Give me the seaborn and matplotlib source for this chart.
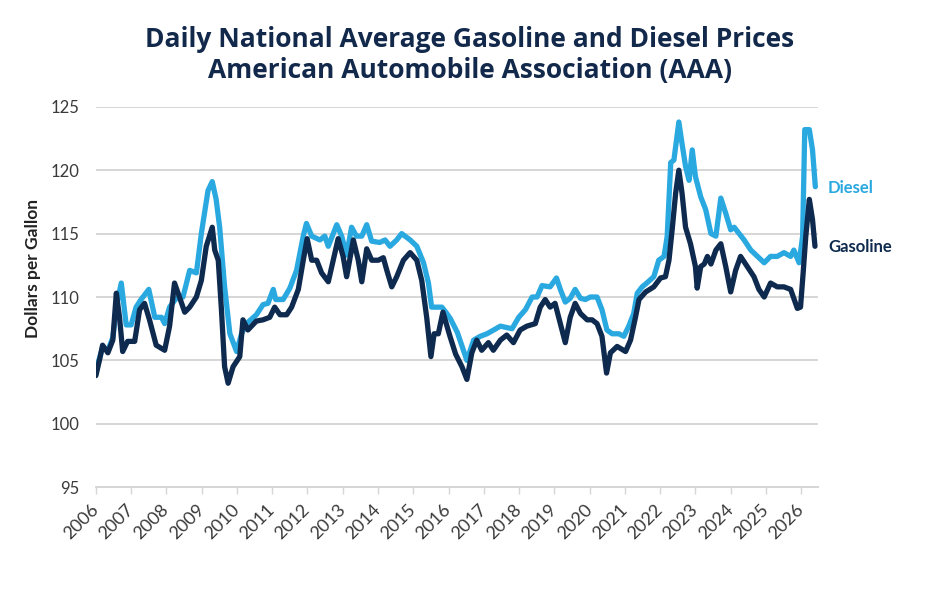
import matplotlib
matplotlib.use("Agg")
import matplotlib.pyplot as plt
import seaborn as sns
import pandas as pd
import numpy as np

# ---------------- data ----------------
gas_t = [2006.00, 2006.10, 2006.19, 2006.34, 2006.48, 2006.58, 2006.67, 2006.76, 2006.90,
         2007.10, 2007.24, 2007.38, 2007.52, 2007.71, 2007.95, 2008.09, 2008.23, 2008.37,
         2008.52, 2008.66, 2008.85, 2008.99, 2009.13, 2009.30, 2009.37, 2009.47, 2009.56,
         2009.65, 2009.75, 2009.89, 2010.08, 2010.17, 2010.31, 2010.55, 2010.74, 2010.93,
         2011.07, 2011.22, 2011.41, 2011.55, 2011.74, 2011.88, 2011.99, 2012.12, 2012.26,
         2012.40, 2012.59, 2012.73, 2012.87, 2013.01, 2013.11, 2013.30, 2013.44, 2013.54,
         2013.68, 2013.82, 2014.01, 2014.15, 2014.25, 2014.39, 2014.53, 2014.72, 2014.91,
         2015.10, 2015.24, 2015.38, 2015.50, 2015.59, 2015.71, 2015.84, 2016.04, 2016.20,
         2016.38, 2016.52, 2016.66, 2016.80, 2016.94, 2017.13, 2017.27, 2017.47, 2017.65,
         2017.84, 2018.03, 2018.22, 2018.46, 2018.60, 2018.74, 2018.88, 2019.02, 2019.17,
         2019.31, 2019.45, 2019.59, 2019.74, 2019.93, 2020.07, 2020.21, 2020.35, 2020.48,
         2020.59, 2020.78, 2021.02, 2021.16, 2021.30, 2021.40, 2021.59, 2021.82, 2022.01,
         2022.15, 2022.25, 2022.34, 2022.44, 2022.53, 2022.62, 2022.72, 2022.86, 2023.00,
         2023.05, 2023.15, 2023.25, 2023.34, 2023.44, 2023.58, 2023.72, 2023.86, 2024.00,
         2024.14, 2024.28, 2024.47, 2024.66, 2024.80, 2024.95, 2025.13, 2025.32, 2025.51,
         2025.70, 2025.89, 2025.98, 2026.06, 2026.13, 2026.23, 2026.32, 2026.39]
gas_v = [103.8, 105.0, 106.2, 105.6, 106.6, 110.3, 108.4, 105.7, 106.5,
         106.5, 109.0, 109.5, 108.2, 106.2, 105.8, 107.7, 111.1, 110.0,
         108.8, 109.2, 110.0, 111.3, 114.0, 115.5, 113.7, 112.9, 109.0,
         104.5, 103.2, 104.5, 105.3, 108.2, 107.4, 108.1, 108.2, 108.4,
         109.2, 108.6, 108.6, 109.2, 110.6, 112.9, 114.6, 112.9, 112.9,
         111.9, 111.2, 112.9, 114.6, 113.2, 111.6, 114.5, 112.9, 111.2,
         113.8, 112.9, 112.9, 113.1, 112.1, 110.8, 111.6, 112.9, 113.5,
         112.9, 111.3, 108.4, 105.3, 107.1, 107.1, 108.8, 106.9, 105.5,
         104.5, 103.5, 105.6, 106.6, 105.8, 106.4, 105.8, 106.6, 107.0,
         106.4, 107.4, 107.7, 107.9, 109.2, 109.8, 109.2, 109.5, 107.9,
         106.4, 108.4, 109.5, 108.7, 108.2, 108.2, 107.9, 106.9, 104.0,
         105.6, 106.1, 105.7, 106.6, 108.4, 109.8, 110.4, 110.8, 111.5,
         111.6, 112.9, 115.3, 118.2, 120.0, 118.2, 115.5, 114.2, 112.4,
         110.7, 112.4, 112.6, 113.2, 112.6, 113.7, 114.2, 112.4, 110.4,
         112.1, 113.2, 112.4, 111.6, 110.6, 110.0, 111.1, 110.8, 110.8,
         110.6, 109.1, 109.2, 112.1, 114.8, 117.7, 116.1, 114.0]

dsl_t = [2006.00, 2006.19, 2006.34, 2006.48, 2006.60, 2006.72, 2006.86, 2007.00, 2007.14,
         2007.28, 2007.50, 2007.67, 2007.86, 2007.95, 2008.09, 2008.28, 2008.47, 2008.66,
         2008.85, 2008.99, 2009.18, 2009.30, 2009.41, 2009.51, 2009.65, 2009.80, 2009.99,
         2010.13, 2010.27, 2010.55, 2010.74, 2010.88, 2011.03, 2011.10, 2011.31, 2011.50,
         2011.69, 2011.88, 2011.97, 2012.12, 2012.35, 2012.49, 2012.59, 2012.83, 2012.97,
         2013.11, 2013.25, 2013.39, 2013.54, 2013.68, 2013.82, 2014.05, 2014.20, 2014.34,
         2014.53, 2014.67, 2014.91, 2015.10, 2015.29, 2015.43, 2015.52, 2015.66, 2015.81,
         2015.95, 2016.05, 2016.25, 2016.52, 2016.71, 2016.90, 2017.09, 2017.28, 2017.47,
         2017.80, 2017.99, 2018.18, 2018.37, 2018.51, 2018.65, 2018.88, 2019.06, 2019.17,
         2019.31, 2019.45, 2019.59, 2019.74, 2019.88, 2020.02, 2020.21, 2020.35, 2020.49,
         2020.64, 2020.83, 2020.97, 2021.11, 2021.25, 2021.35, 2021.49, 2021.62, 2021.82,
         2021.96, 2022.11, 2022.20, 2022.30, 2022.39, 2022.53, 2022.62, 2022.72, 2022.82,
         2022.91, 2023.00, 2023.15, 2023.29, 2023.44, 2023.58, 2023.72, 2023.86, 2024.00,
         2024.10, 2024.24, 2024.38, 2024.57, 2024.76, 2024.95, 2025.13, 2025.32, 2025.51,
         2025.70, 2025.79, 2025.94, 2026.04, 2026.10, 2026.23, 2026.32, 2026.40]
dsl_v = [104.2, 106.0, 105.8, 106.8, 109.5, 111.1, 107.8, 107.8, 109.2,
         109.8, 110.6, 108.4, 108.4, 107.9, 109.2, 109.9, 110.0, 112.1,
         111.9, 115.0, 118.4, 119.1, 117.7, 115.5, 110.8, 107.1, 105.7,
         107.1, 107.9, 108.6, 109.4, 109.5, 110.6, 109.8, 109.8, 110.7,
         112.1, 114.8, 115.8, 114.8, 114.5, 114.8, 114.0, 115.7, 114.8,
         113.3, 115.5, 114.8, 114.8, 115.7, 114.4, 114.3, 114.5, 114.0,
         114.5, 115.0, 114.5, 114.0, 112.7, 111.1, 109.2, 109.2, 109.2,
         108.7, 108.3, 107.2, 105.0, 106.6, 106.9, 107.1, 107.4, 107.7,
         107.5, 108.4, 109.0, 110.0, 110.0, 110.9, 110.8, 111.5, 110.6,
         109.6, 109.9, 110.6, 109.9, 109.8, 110.0, 110.0, 109.0, 107.4,
         107.1, 107.1, 106.9, 107.7, 108.7, 110.3, 110.8, 111.1, 111.6,
         112.9, 113.2, 114.8, 120.6, 120.8, 123.8, 122.1, 120.3, 119.2,
         121.6, 119.5, 117.9, 116.9, 115.0, 114.8, 117.8, 116.6, 115.3,
         115.5, 115.0, 114.5, 113.7, 113.2, 112.7, 113.2, 113.2, 113.5,
         113.2, 113.7, 112.7, 114.8, 123.2, 123.2, 121.6, 118.7]

series_names = ["Diesel", "Gasoline"]
year_ticks = list(range(2006, 2027))
y_ticks = [95, 100, 105, 110, 115, 120, 125]
title_text = "Daily National Average Gasoline and Diesel Prices\nAmerican Automobile Association (AAA)"
y_label = "Dollars per Gallon"

DIESEL_C = "#2AA8E0"
GAS_C = "#0E2A4F"
NAVY = "#13294B"
TICK_C = "#3a3a3a"

df = pd.concat([
    pd.DataFrame({"t": dsl_t, "v": dsl_v, "series": series_names[0]}),
    pd.DataFrame({"t": gas_t, "v": gas_v, "series": series_names[1]}),
], ignore_index=True)

sns.set_theme(style="white")
plt.rcParams["font.family"] = ["Lato", "DejaVu Sans"]

fig = plt.figure(figsize=(9.4, 6.0), dpi=100)
ax = fig.add_axes([0.102, 0.188, 0.768, 0.634])

sns.lineplot(data=df, x="t", y="v", hue="series", sort=False,
             palette={series_names[0]: DIESEL_C, series_names[1]: GAS_C},
             hue_order=series_names, linewidth=3.8, legend=False, ax=ax,
             estimator=None)
for line in ax.lines:
    line.set_solid_joinstyle("round")
    line.set_solid_capstyle("round")

ax.set_xlim(2006, 2026.47)
ax.set_ylim(95, 125)
ax.set_yticks(y_ticks)
ax.set_xticks(year_ticks)
ax.set_xticklabels([str(y) for y in year_ticks], rotation=45, ha="right", va="center",
                   rotation_mode="anchor", family=["Lato"], fontsize=13, fontweight="normal",
                   color=TICK_C)
ax.set_yticklabels([str(y) for y in y_ticks], family=["Lato"], fontsize=12, fontweight="normal",
                   color=TICK_C)
ax.grid(axis="y", color="#d6d6d6", linewidth=1.4)
ax.grid(axis="x", visible=False)
for s in ["top", "right", "left"]:
    ax.spines[s].set_visible(False)
ax.spines["bottom"].set_color("#d6d6d6")
ax.spines["bottom"].set_linewidth(1.4)
ax.tick_params(axis="x", which="major", bottom=True, length=5, width=1, color="#d6d6d6", pad=9)
ax.tick_params(axis="y", length=0, pad=12)
ax.set_xlabel("")
ax.set_ylabel("")

fig.text(0.035, 0.552, y_label, rotation=90, ha="center", va="center",
         fontsize=12.5, fontweight="bold", color="#222222")
fig.text(0.5, 0.957, title_text, ha="center", va="top", fontsize=19,
         fontweight="bold", color=NAVY, linespacing=1.22, family=["Open Sans", "DejaVu Sans"])

ax.annotate(series_names[0], xy=(dsl_t[-1], dsl_v[-1]), xycoords="data",
            xytext=(828 / 940, 1 - 188 / 600), textcoords="figure fraction",
            ha="left", va="center", fontsize=12, fontweight="bold", color=DIESEL_C)
ax.annotate(series_names[1], xy=(gas_t[-1], gas_v[-1]), xycoords="data",
            xytext=(828 / 940, 1 - 247 / 600), textcoords="figure fraction",
            ha="left", va="center", fontsize=12, fontweight="bold", color=GAS_C)

fig.savefig("out.png", dpi=100)
